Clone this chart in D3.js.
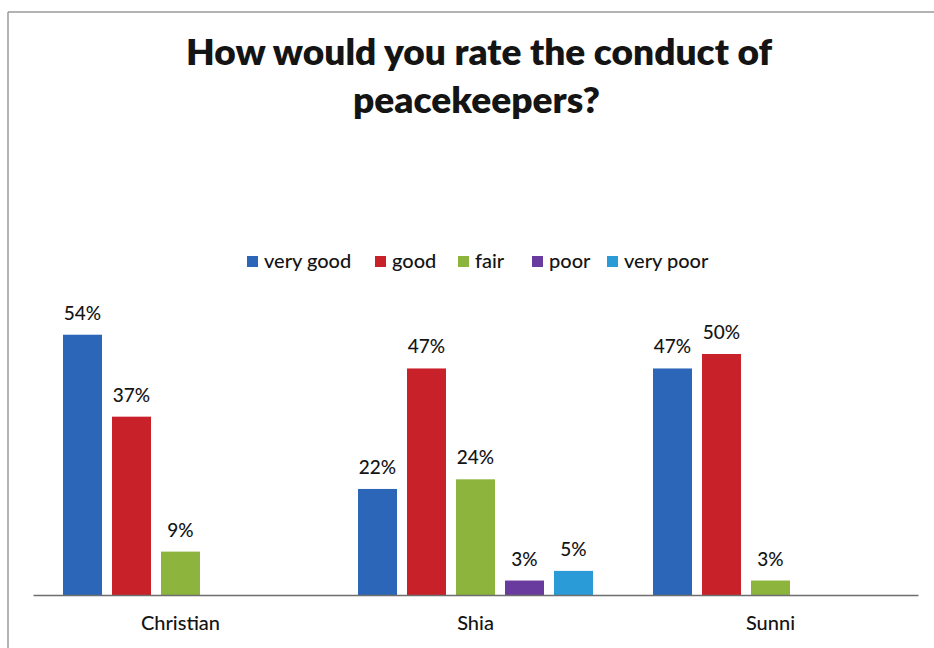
<!DOCTYPE html>
<html>
<head>
<meta charset="utf-8">
<script src="https://cdn.jsdelivr.net/npm/d3@7"></script>
<style>
  html, body { margin: 0; padding: 0; background: #fff; }
  svg { display: block; }
  text { font-family: Lato, "Open Sans", sans-serif; fill: #141414; }
</style>
</head>
<body>
<svg id="chart" width="934" height="648"></svg>
<script>
// Survey groups and rating categories
const groups = ["Christian", "Shia", "Sunni"];
const ratings = ["very good", "good", "fair", "poor", "very poor"];
const ratingColors = ["#2b66b9", "#c92129", "#8db43c", "#6a3b9f", "#2b9bd8"];

// Percentages per group, in rating order (null = no response shown)
const christianValues = [54, 37, 9, null, null];
const shiaValues = [22, 47, 24, 3, 5];
const sunniValues = [47, 50, 3, null, null];
const seriesByGroup = [christianValues, shiaValues, sunniValues];

const titleLines = ["How would you rate the conduct of", "peacekeepers?"];

const svg = d3.select("#chart");
const W = 934, H = 648;

// Frame of the chart area
svg.append("line").attr("x1", 8).attr("x2", W).attr("y1", 12).attr("y2", 12)
  .attr("stroke", "#9a9a9a").attr("stroke-width", 1.5);
svg.append("line").attr("x1", 8).attr("x2", 8).attr("y1", 12).attr("y2", H)
  .attr("stroke", "#9a9a9a").attr("stroke-width", 1.5);

// Title (two centred lines)
svg.append("text").attr("x", 479).attr("y", 65).attr("text-anchor", "middle")
  .attr("font-weight", 800).attr("font-size", 35)
  .attr("textLength", 586).attr("lengthAdjust", "spacingAndGlyphs")
  .text(titleLines[0]);
svg.append("text").attr("x", 476.5).attr("y", 113).attr("text-anchor", "middle")
  .attr("font-weight", 800).attr("font-size", 35)
  .attr("textLength", 247).attr("lengthAdjust", "spacingAndGlyphs")
  .text(titleLines[1]);

// Scales
const plotLeft = 33, plotRight = 918, baseY = 595;
const x0 = d3.scaleBand().domain(groups).range([plotLeft, plotRight]).paddingInner(0).paddingOuter(0);
const x1 = d3.scaleBand().domain(ratings).range([30, 295 - 30]).paddingInner(10 / 49).paddingOuter(0);
const y = d3.scaleLinear().domain([0, 54]).range([baseY, baseY - 54 * 4.82]);

// Legend
const legendX = [247, 375, 458, 532, 607];
const legend = svg.append("g");
ratings.forEach((r, i) => {
  legend.append("rect").attr("x", legendX[i]).attr("y", 256).attr("width", 11).attr("height", 11)
    .attr("fill", ratingColors[i]);
  legend.append("text").attr("x", legendX[i] + 17).attr("y", 268)
    .attr("font-size", 20).attr("font-weight", 500).text(r);
});

// Bars and value labels
const groupG = svg.selectAll("g.group").data(groups).join("g")
  .attr("class", "group")
  .attr("transform", d => `translate(${x0(d)},0)`);

groupG.each(function (g, gi) {
  const vals = seriesByGroup[gi]
    .map((v, i) => ({ rating: ratings[i], value: v, color: ratingColors[i] }))
    .filter(d => d.value != null);
  const sel = d3.select(this);
  sel.selectAll("rect").data(vals).join("rect")
    .attr("x", d => x1(d.rating))
    .attr("width", x1.bandwidth())
    .attr("y", d => y(d.value))
    .attr("height", d => baseY - y(d.value))
    .attr("fill", d => d.color);
  sel.selectAll("text.val").data(vals).join("text")
    .attr("class", "val")
    .attr("x", d => x1(d.rating) + x1.bandwidth() / 2)
    .attr("y", d => y(d.value) - 15)
    .attr("text-anchor", "middle")
    .attr("font-size", 19).attr("font-weight", 500)
    .text(d => d.value + "%");
});

// Category axis
const axis = svg.append("g").attr("transform", `translate(0,${baseY})`)
  .call(d3.axisBottom(x0).tickSize(0).tickPadding(21));
axis.select(".domain").attr("stroke", "#6e6e6e").attr("stroke-width", 1.5);
axis.selectAll(".tick text")
  .attr("font-family", "Lato, 'Open Sans', sans-serif")
  .attr("font-size", 20).attr("font-weight", 500).attr("fill", "#141414");
</script>
</body>
</html>
